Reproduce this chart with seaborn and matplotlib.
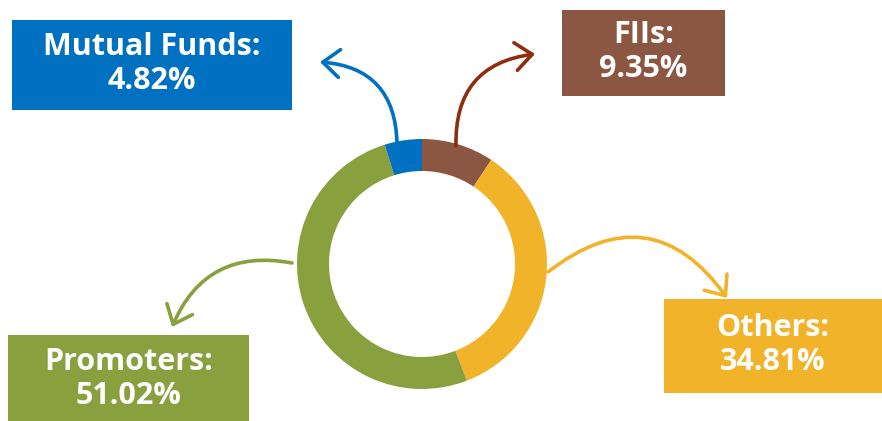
import matplotlib
matplotlib.use("Agg")
import matplotlib.pyplot as plt
import seaborn as sns
from matplotlib.patches import Rectangle, FancyArrowPatch

# shareholding data, clockwise from 12 o'clock
labels = ["FIIs", "Others", "Promoters", "Mutual Funds"]
shares = [9.35, 34.81, 51.02, 4.82]
colors = ["#8B5742", "#F0B32A", "#89A03F", "#0070C0"]
arrow_colors = ["#8E2E0F", "#F0B32A", "#89A03F", "#0070C0"]

sns.set_style("white")
plt.rcParams["font.family"] = ["Open Sans", "DejaVu Sans"]

W, H = 882, 421
fig = plt.figure(figsize=(W / 100, H / 100), dpi=100)
ax = fig.add_axes([0, 0, 1, 1])

# donut
cx, cy, r = 422, H - 264, 125
ax.pie(shares, colors=colors, startangle=90, counterclock=False,
       center=(cx, cy), radius=r,
       wedgeprops=dict(width=32, linewidth=0))

# label boxes: (x0, y0_top, x1, y1_bottom) in image pixels
boxes = {
    "Mutual Funds": (12, 20, 292, 110),
    "FIIs": (562, 10, 725, 96),
    "Others": (664, 299, 882, 393),
    "Promoters": (8, 335, 249, 425),
}
# arrows: start, end in image pixels, curvature
arrows = {
    "Mutual Funds": ((397, 143), (320, 62), 0.45),
    "FIIs": ((456, 146), (535, 54), -0.45),
    "Others": ((548, 272), (727, 298), -0.52),
    "Promoters": ((292, 263), (172, 327), 0.4),
}

for lab, val, col, acol in zip(labels, shares, colors, arrow_colors):
    x0, y0, x1, y1 = boxes[lab]
    ax.add_patch(Rectangle((x0, H - y1), x1 - x0, y1 - y0,
                           facecolor=col, edgecolor="none", zorder=3))
    ax.text((x0 + x1) / 2, H - (y0 + y1) / 2 + 1, f"{lab}:\n{val:.2f}%",
            ha="center", va="center", color="white", fontsize=22,
            fontweight="bold", linespacing=1.18, zorder=4)
    (sx, sy), (ex, ey), rad = arrows[lab]
    ax.add_patch(FancyArrowPatch((sx, H - sy), (ex, H - ey),
                                 connectionstyle=f"arc3,rad={rad}",
                                 arrowstyle="->,head_length=0.6,head_width=0.5",
                                 mutation_scale=20, color=acol, lw=2.6,
                                 capstyle="round", joinstyle="round",
                                 shrinkA=0, shrinkB=0, zorder=2))

ax.set_xlim(0, W)
ax.set_ylim(0, H)
ax.set_aspect("equal")
ax.axis("off")

fig.savefig("out.png", dpi=100, facecolor="white")
